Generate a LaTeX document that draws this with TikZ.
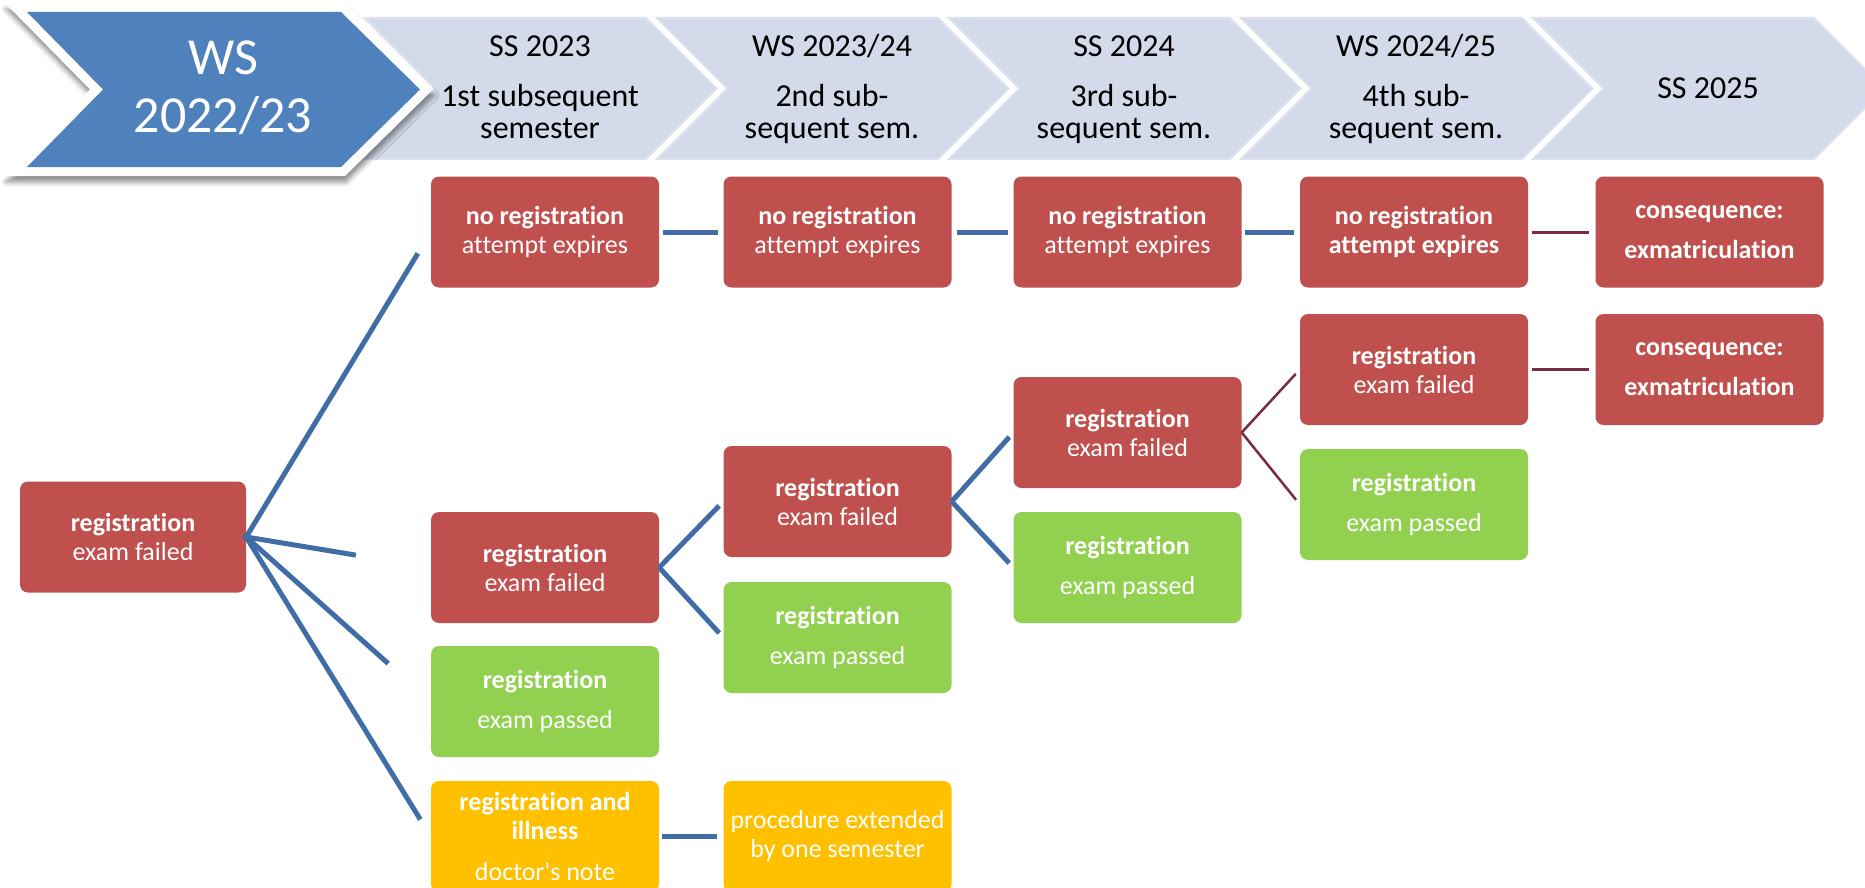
\documentclass[tikz,border=0pt]{standalone}
\usepackage{fontspec}
\setmainfont{Carlito}[Ligatures=NoCommon]
\newfontfamily\carl{Carlito}[Ligatures=NoCommon]
\usetikzlibrary{shadows.blur,calc}
\definecolor{boxred}{HTML}{C0504D}
\definecolor{boxgreen}{HTML}{92D050}
\definecolor{boxyellow}{HTML}{FFC000}
\definecolor{chevblue}{HTML}{4F81BD}
\definecolor{chevlight}{HTML}{D3DAE9}
\definecolor{chevedge}{HTML}{DCE1EE}
\definecolor{linkblue}{HTML}{416DA6}
\definecolor{linkmaroon}{HTML}{7A2947}
\begin{document}
\begin{tikzpicture}[x=1pt,y=-1pt,
  box/.style={rounded corners=8pt, minimum width=228pt, minimum height=111pt, inner sep=0pt,
    text=white, align=center, font=\carl\fontsize{26}{29}\selectfont},
  failbox/.style={box, fill=boxred},
  passbox/.style={box, fill=boxgreen},
  illbox/.style={box, fill=boxyellow},
  chevshape/.style={fill=chevlight, draw=chevedge, line width=2pt},
  hdr/.style={anchor=base, inner sep=0pt, text=black, font=\carl\fontsize{32}{38}\selectfont},
  bighdr/.style={anchor=base, inner sep=0pt, text=white, font=\carl\fontsize{52}{57}\selectfont},
  linkb/.style={draw=linkblue, line width=5pt},
  linkm/.style={draw=linkmaroon, line width=3pt}
]
\useasboundingbox (0,0) rectangle (1865,888);
\clip (0,0) rectangle (1865,888);

% light chevrons
\foreach \L in {365,657,949,1241,1533}{
  \filldraw[chevshape] (\L,18) -- ({\L+281},18) -- ({\L+351.5},88.5) -- ({\L+281},159)
     -- (\L,159) -- ({\L+70.5},88.5) -- cycle;
}
% big chevron with white outline and shadow
\fill[white, blur shadow={shadow xshift=1pt, shadow yshift=-6pt, shadow blur radius=5pt, shadow opacity=45}]
  (5,3) -- (345,3) -- (433,89.5) -- (345,176) -- (5,176) -- (90,89.5) -- cycle;
\fill[chevblue] (27,12) -- (341,12) -- (420,89.5) -- (341,167) -- (27,167) -- (103,89.5) -- cycle;

% header texts
\node[bighdr] (h0a) at (223,75) {WS};
\node[bighdr] (h0b) at (223,132) {2022/23};
\node[hdr] (h1a) at (540,57) {SS 2023};
\node[hdr] (h1b) at (540,107) {1st subsequent};
\node[hdr] (h1c) at (540,139) {semester};
\node[hdr] (h2a) at (832,57) {WS 2023/24};
\node[hdr] (h2b) at (832,107) {2nd sub-};
\node[hdr] (h2c) at (832,139) {sequent sem.};
\node[hdr] (h3a) at (1124,57) {SS 2024};
\node[hdr] (h3b) at (1124,107) {3rd sub-};
\node[hdr] (h3c) at (1124,139) {sequent sem.};
\node[hdr] (h4a) at (1416,57) {WS 2024/25};
\node[hdr] (h4b) at (1416,107) {4th sub-};
\node[hdr] (h4c) at (1416,139) {sequent sem.};
\node[hdr] (h5a) at (1708,99) {SS 2025};

% boxes
\node[failbox, minimum width=226pt] (L) at (133,537) {\textbf{registration}\\exam failed};
\node[failbox] (A1) at (545,232) {\textbf{no registration}\\attempt expires};
\node[failbox] (A2) at (837.5,232) {\textbf{no registration}\\attempt expires};
\node[failbox] (A3) at (1127.5,232) {\textbf{no registration}\\attempt expires};
\node[failbox] (A4) at (1414,232) {\textbf{no registration}\\\textbf{attempt expires}};
\node[failbox] (C1) at (1709.5,232) {\textbf{consequence:}\\[11pt]\textbf{exmatriculation}};
\node[failbox] (B1) at (545,567.5) {\textbf{registration}\\exam failed};
\node[passbox] (G1) at (545,701.5) {\textbf{registration}\\[11pt]exam passed};
\node[illbox] (Y1) at (545,836.5) {\textbf{registration and}\\\textbf{illness}\\[12pt]doctor's note};
\node[failbox] (B2) at (837.5,501.5) {\textbf{registration}\\exam failed};
\node[passbox] (G2) at (837.5,637.5) {\textbf{registration}\\[11pt]exam passed};
\node[illbox] (Y2) at (837.5,836.5) {procedure extended\\by one semester};
\node[failbox] (B3) at (1127.5,432.5) {\textbf{registration}\\exam failed};
\node[passbox] (G3) at (1127.5,567.5) {\textbf{registration}\\[11pt]exam passed};
\node[failbox] (B4) at (1414,369.5) {\textbf{registration}\\exam failed};
\node[passbox] (G4) at (1414,504.5) {\textbf{registration}\\[11pt]exam passed};
\node[failbox] (C2) at (1709.5,369.5) {\textbf{consequence:}\\[11pt]\textbf{exmatriculation}};

% connectors
\draw[linkb, shorten <=-3pt, shorten >=25pt] (L.east) -- (A1.west);
\draw[linkb, shorten <=-3pt, shorten >=76pt] (L.east) -- (B1.west);
\draw[linkb, shorten <=-3pt, shorten >=57pt] (L.east) -- (G1.west);
\draw[linkb, shorten <=-3pt, shorten >=20pt] (L.east) -- (Y1.west);
\draw[linkb, shorten >=6pt] (B1.east) -- (B2.west);
\draw[linkb, shorten >=6pt] (B1.east) -- (G2.west);
\draw[linkb, shorten >=6pt] (B2.east) -- (B3.west);
\draw[linkb, shorten >=6pt] (B2.east) -- (G3.west);
\draw[linkm, line width=2.5pt, shorten >=6pt] (B3.east) -- (B4.west);
\draw[linkm, line width=2.5pt, shorten >=6pt] (B3.east) -- (G4.west);
\draw[linkb, shorten <=4pt, shorten >=5pt] (A1.east) -- (A2.west);
\draw[linkb, shorten <=5pt, shorten >=5pt] (A2.east) -- (A3.west);
\draw[linkb, shorten <=3pt, shorten >=6pt] (A3.east) -- (A4.west);
\draw[linkm, shorten <=4pt, shorten >=6pt] (A4.east) -- (C1.west);
\draw[linkm, shorten <=4pt, shorten >=6pt] (B4.east) -- (C2.west);
\draw[linkb, shorten <=3pt, shorten >=6pt] (Y1.east) -- (Y2.west);
\end{tikzpicture}
\end{document}
